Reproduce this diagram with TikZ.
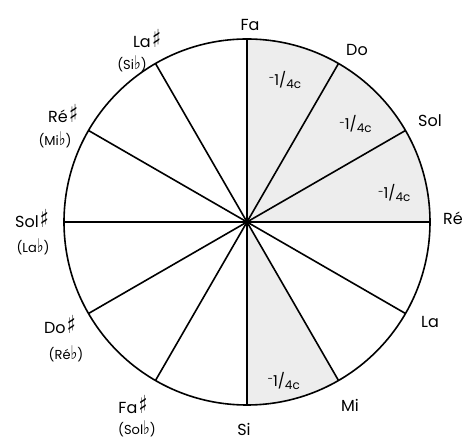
\documentclass[tikz,border=0pt]{standalone}
\usepackage{fontspec}
\usepackage{graphicx}
\setmainfont{Poppins}
\newfontfamily\musfont{DejaVu Sans}
\usetikzlibrary{backgrounds}
\pgfdeclarelayer{edgelayer}
\pgfdeclarelayer{nodelayer}
\pgfsetlayers{background,edgelayer,nodelayer,main}
\newcommand{\shp}{\kern0.08em\scalebox{1.15}[1.55]{\musfont\char"266F}}
\newcommand{\flt}{\scalebox{1.1}[1.45]{\musfont\char"266D}}
\newcommand{\quartc}{\raisebox{0.45ex}{\fontsize{10}{10}\selectfont-}1/\raisebox{-0.35ex}{\fontsize{12}{12}\selectfont 4c}}
\tikzstyle{none}=[inner sep=0mm]
\tikzstyle{note}=[inner sep=0mm,font=\fontsize{16}{18}\selectfont]
\tikzstyle{alt}=[inner sep=0mm,font=\fontsize{13}{14}\selectfont]
\tikzstyle{comma}=[inner sep=0mm,font=\fontsize{15}{16}\selectfont]
\tikzstyle{spoke}=[line width=1.6pt]
\tikzstyle{tempered}=[fill=black!7]

\begin{document}
\begin{tikzpicture}[x=1pt,y=1pt]
	\useasboundingbox (-247,-219) rectangle (217,222);
	\begin{pgfonlayer}{nodelayer}
		\coordinate (c) at (0,0);
		\coordinate (pfa) at (90:183pt);
		\coordinate (pdo) at (60:183pt);
		\coordinate (psol) at (30:183pt);
		\coordinate (pre) at (0:183pt);
		\coordinate (pla) at (-30:183pt);
		\coordinate (pmi) at (-60:183pt);
		\coordinate (psi) at (-90:183pt);
		\coordinate (pfas) at (-120:183pt);
		\coordinate (pdos) at (-150:183pt);
		\coordinate (psols) at (180:183pt);
		\coordinate (pres) at (150:183pt);
		\coordinate (plas) at (120:183pt);
		\node [style=note] (fa) at (3,197) {Fa};
		\node [style=note] (do) at (110,172) {Do};
		\node [style=note] (sol) at (183,101) {Sol};
		\node [style=note] (re) at (206,4) {Ré};
		\node [style=note] (la) at (183,-100) {La};
		\node [style=note] (mi) at (103,-183) {Mi};
		\node [style=note] (si) at (-3,-207) {Si};
		\node [style=note] (fas) at (-114,-183) {Fa\shp};
		\node [style=alt] (solb) at (-110,-207) {(Sol\flt)};
		\node [style=note] (dos) at (-187,-103) {Do\shp};
		\node [style=alt] (reb) at (-181,-132) {(Ré\flt)};
		\node [style=note] (sols) at (-215,3) {Sol\shp};
		\node [style=alt] (lab) at (-214,-25) {(La\flt)};
		\node [style=note] (res) at (-184,108) {Ré\shp};
		\node [style=alt] (mib) at (-192,82) {(Mi\flt)};
		\node [style=note] (las) at (-100,183) {La\shp};
		\node [style=alt] (sib) at (-115,158) {(Si\flt)};
		\node [style=comma] (q1) at (75:147pt) {\quartc};
		\node [style=comma] (q2) at (42:146pt) {\quartc};
		\node [style=comma] (q3) at (11:150pt) {\quartc};
		\node [style=comma] (q4) at (-77:163pt) {\quartc};
	\end{pgfonlayer}
	\begin{pgfonlayer}{edgelayer}
		\fill [style=tempered] (c) -- (pfa) arc (90:0:183pt) -- cycle;
		\fill [style=tempered] (c) -- (psi) arc (-90:-60:183pt) -- cycle;
		\draw [style=spoke] (c) circle (183pt);
		\draw [style=spoke] (pfa) to (psi);
		\draw [style=spoke] (pdo) to (pfas);
		\draw [style=spoke] (psol) to (pdos);
		\draw [style=spoke] (pre) to (psols);
		\draw [style=spoke] (pla) to (pres);
		\draw [style=spoke] (pmi) to (plas);
	\end{pgfonlayer}
\end{tikzpicture}
\end{document}
